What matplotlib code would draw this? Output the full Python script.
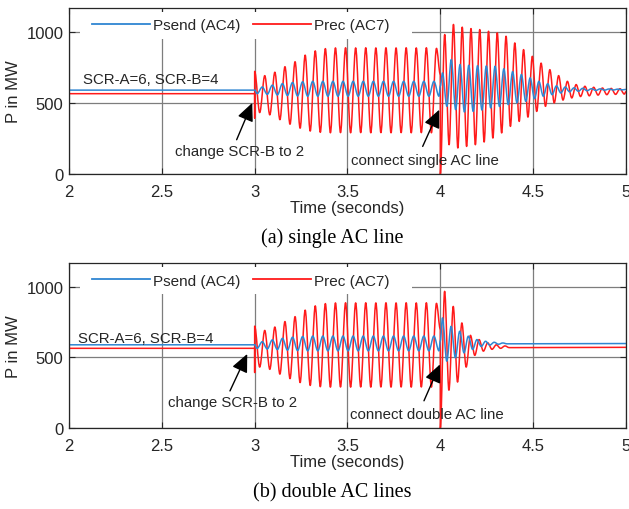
import numpy as np
import matplotlib.pyplot as plt
from matplotlib.path import Path
from matplotlib.patches import PathPatch, Rectangle
from matplotlib.lines import Line2D

plt.rcParams['font.family'] = ['Liberation Sans', 'DejaVu Sans']

# steady state before the SCR change (MW)
psend_steady = 590
prec_steady = 565

# 3.0 - 4.0 s: SCR-B changed to 2 (identical in both cases)
half_a = 0.0272
prec_spike_3 = 394
prec_a_peaks = [722, 692, 716, 755, 790, 836, 866, 882, 887, 888, 887, 888,
                887, 888, 887, 888, 887, 888, 884]
prec_a_troughs = [432, 416, 382, 350, 322, 302, 293, 290, 291, 290, 291, 290,
                  291, 290, 291, 290, 291, 290]
psend_a_troughs = [565, 560, 556, 552, 549, 547, 547, 547, 547, 547, 547, 547,
                   547, 547, 547, 547, 547, 547, 547]
psend_a_peaks = [612, 625, 636, 644, 649, 652, 652, 652, 652, 652, 652, 652,
                 652, 652, 652, 652, 652, 652]
prec_at_4 = 700
psend_at_4 = 620

# (a) single AC line connected at 4.0 s
half_single = 0.0236
prec_single_peaks = [981, 1052, 1033, 1023, 1016, 1004, 993, 969, 922, 875, 828,
                     780, 734, 692, 652, 629, 617, 610, 605, 602, 600]
prec_single_troughs = [206, 183, 194, 206, 225, 253, 289, 335, 370, 400, 440,
                       476, 500, 520, 535, 545, 550, 555, 558, 560, 562]
psend_single_peaks = [711, 805, 770, 765, 762, 760, 758, 740, 720, 700, 676,
                      652, 635, 620, 612, 606, 603, 600, 599, 598, 597]
psend_single_troughs = [476, 453, 436, 440, 450, 465, 475, 488, 500, 511, 530,
                        547, 558, 570, 578, 582, 586, 588, 590, 591, 592]
prec_single_end = 580
psend_single_end = 595

# (b) double AC lines connected at 4.0 s
half_double = 0.0232
prec_double_peaks = [969, 862, 745, 657, 627, 604, 590, 582]
prec_double_troughs = [268, 326, 432, 515, 545, 558, 565, 570]
psend_double_peaks = [781, 721, 686, 651, 627, 615, 608, 603]
psend_double_troughs = [474, 498, 533, 557, 578, 588, 594, 597]
prec_double_end = 572
psend_double_end = 599

x_ticks = [2, 2.5, 3, 3.5, 4, 4.5, 5]
x_tick_labels = ['2', '2.5', '3', '3.5', '4', '4.5', '5']
y_ticks = [0, 500, 1000]

BLUE = '#2f86d2'
RED = '#ff1a1a'
TXT = '#262626'


def alternate(first, second):
    out = []
    for a, b in zip(first, second):
        out += [a, b]
    if len(first) > len(second):
        out.append(first[-1])
    return out


def steps(t0, half, n):
    return [t0 + half * k for k in range(n)]


def smooth_line(ax, ts, vs, color, lw=1.0):
    # cubic pieces with flat tangents at every turning point
    verts = [(ts[0], vs[0])]
    codes = [Path.MOVETO]
    for i in range(len(ts) - 1):
        t0, v0, t1, v1 = ts[i], vs[i], ts[i + 1], vs[i + 1]
        d = (t1 - t0) / 3
        verts += [(t0 + d, v0), (t1 - d, v1), (t1, v1)]
        codes += [Path.CURVE4] * 3
    ax.add_patch(PathPatch(Path(verts, codes), fill=False, edgecolor=color,
                           lw=lw, joinstyle='round', zorder=2))


def panel(ax, half_b, rp, rt, r_end, sp, st, s_end, event_text, arrows, texts):
    na = len(prec_a_peaks) + len(prec_a_troughs)
    nb = len(rp) + len(rt)
    # receiving end
    ts = [2.0, 3.0, 3.0] + steps(3.0, half_a, na) + [4.0, 4.0] \
        + steps(4.0 + half_b, half_b, nb) + [5.0]
    vs = [prec_steady, prec_steady, prec_spike_3] \
        + alternate(prec_a_peaks, prec_a_troughs) + [prec_at_4, 0] \
        + alternate(rp, rt) + [r_end]
    # sending end, leading by a quarter cycle
    ts2 = [2.0, 3.0] + steps(3.0 + half_a / 2, half_a, na) + [4.0] \
        + steps(4.0 + half_b / 2, half_b, nb) + [5.0]
    vs2 = [psend_steady, psend_steady] \
        + alternate(psend_a_troughs, psend_a_peaks) + [psend_at_4] \
        + alternate(sp, st) + [s_end]
    smooth_line(ax, ts, vs, RED, 1.1)
    smooth_line(ax, ts2, vs2, BLUE, 1.1)

    ax.set_xlim(2, 5)
    ax.set_ylim(0, 1168)
    ax.set_xticks(x_ticks)
    ax.set_xticklabels(x_tick_labels)
    ax.set_yticks(y_ticks)
    ax.set_axisbelow(True)
    ax.grid(True, color='#7d7d7d', lw=0.9)
    ax.tick_params(direction='in', length=4, top=True, right=True,
                   labelsize=12, colors=TXT, pad=7)
    ax.tick_params(axis='y', pad=4)
    for s in ax.spines.values():
        s.set_color('#262626')
        s.set_linewidth(0.9)
    ax.set_xlabel('Time (seconds)', fontsize=12, color=TXT, labelpad=1)
    ax.set_ylabel('P in MW', fontsize=12, color=TXT, labelpad=4)

    # legend sits on a white patch that hides the grid
    ax.add_patch(Rectangle((0.02, 0.815), 0.595, 0.16, transform=ax.transAxes,
                           facecolor='white', edgecolor='none', zorder=3))
    handles = [Line2D([], [], color=BLUE, lw=1.3), Line2D([], [], color=RED, lw=1.3)]
    leg = ax.legend(handles, ['Psend (AC4)', 'Prec (AC7)'], ncol=2,
                    loc='center left', bbox_to_anchor=(0.03, 0.895),
                    frameon=False, fontsize=11, handlelength=3.8,
                    handletextpad=0.2, columnspacing=0.8, borderaxespad=0)
    leg.set_zorder(4)
    for t in leg.get_texts():
        t.set_color(TXT)

    for (x, y), s in zip(texts, ['SCR-A=6, SCR-B=4', 'change SCR-B to 2', event_text]):
        ax.text(x, y, s, fontsize=10.8, color=TXT, va='center', ha='left', zorder=5)
    for tail, tip in arrows:
        ax.annotate('', xy=tip, xytext=tail, zorder=5,
                    arrowprops=dict(arrowstyle='-|>,head_length=1.1,head_width=0.5',
                                    color='black', lw=1.0, shrinkA=0, shrinkB=0,
                                    mutation_scale=10))


fig = plt.figure(figsize=(6.29, 5.10), dpi=100)
ax1 = fig.add_axes([0.1097, 0.6569, 0.8855, 0.3255])
ax2 = fig.add_axes([0.1097, 0.1588, 0.8855, 0.3230])

panel(ax1, half_single, prec_single_peaks, prec_single_troughs, prec_single_end,
      psend_single_peaks, psend_single_troughs, psend_single_end,
      'connect single AC line',
      arrows=[((2.903, 241), (2.987, 500)), ((3.905, 194), (3.994, 452))],
      texts=[(2.075, 671), (2.571, 164), (3.517, 96)])
panel(ax2, half_double, prec_double_peaks, prec_double_troughs, prec_double_end,
      psend_double_peaks, psend_double_troughs, psend_double_end,
      'connect double AC line',
      arrows=[((2.867, 263), (2.96, 525)), ((3.912, 193), (3.998, 451))],
      texts=[(2.05, 639), (2.535, 185), (3.513, 98)])

fig.text(0.529, 1 - 238 / 510, '(a) single AC line', family='Liberation Serif',
         fontsize=14.5, ha='center', va='center', color='black')
fig.text(0.529, 1 - 493 / 510, '(b) double AC lines', family='Liberation Serif',
         fontsize=14.5, ha='center', va='center', color='black')

fig.savefig('out.png', dpi=100)
